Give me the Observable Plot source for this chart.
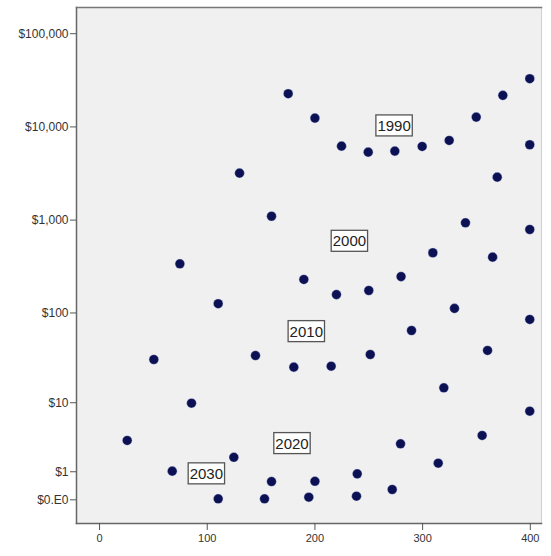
<!DOCTYPE html>
<html>
<head>
<meta charset="utf-8">
<script src="https://cdn.jsdelivr.net/npm/d3@7"></script>
<script src="https://cdn.jsdelivr.net/npm/@observablehq/plot@0.6"></script>
<style>
  body { margin: 0; background: white; }
</style>
</head>
<body>
<div id="chart"></div>
<script>
// Point values
const xValues = [25.7, 50.4, 67.5, 74.6, 85.4, 110.2, 110.2, 124.7, 130, 144.8,
  153.2, 159.7, 159.7, 175.2, 180.4, 189.7, 194.3, 200, 200, 215.1,
  220, 224.7, 238.6, 239.3, 249.5, 250, 251.4, 271.8, 274.2, 279.5,
  280, 289.7, 299.6, 309.5, 314.5, 319.7, 324.7, 329.6, 339.8, 349.8,
  355.3, 360.3, 365, 369.3, 374.5, 399.5, 399.5, 399.5, 399.5, 399.5];
const yValues = [3.33, 31.0, 1.03, 339, 9.87, 126, 0.025, 1.86, 3190, 34.3,
  0.025, 1100, 0.57, 22700, 25.5, 230, 0.066, 12430, 0.58, 26.1,
  158, 6220, 0.093, 0.90, 5360, 175, 35.2, 0.29, 5500, 2.99,
  247, 64.5, 6170, 446, 1.47, 14.9, 7160, 112, 936, 12740,
  3.90, 39.0, 400, 2890, 21800, 32900, 6440, 793, 85, 7.92];

const periodLabels = ["1990", "2000", "2010", "2020", "2030"];
const periodX = [273.5, 232, 192, 178.7, 99.2];
const periodY = [10200, 589, 62.4, 2.99, 0.89];

const xTicks = [0, 100, 200, 300, 400];
const yTicks = [0, 1, 10, 100, 1000, 10000, 100000];

const points = xValues.map((x, i) => ({x, y: yValues[i]}));
const labels = periodLabels.map((t, i) => ({t, x: periodX[i], y: periodY[i]}));
const fmtY = d => d === 0 ? "$0.E0" : "$" + d3.format(",")(d);

const chart = Plot.plot({
  width: 551,
  height: 556,
  marginLeft: 76,
  marginTop: 7,
  marginRight: 10,
  marginBottom: 33,
  style: {fontFamily: "'Liberation Sans', Arial, sans-serif", background: "white", color: "#333"},
  x: {domain: [-21.4, 410.4]},
  y: {type: "symlog", constant: 1, domain: [-0.795, 191000]},
  marks: [
    Plot.frame({fill: "#f0f0f0", stroke: "#d0d0d0"}),
    Plot.frame({anchor: "left", stroke: "#666", strokeWidth: 1.5}),
    Plot.frame({anchor: "bottom", stroke: "#666", strokeWidth: 1.5}),
    Plot.frame({anchor: "top", stroke: "#777", strokeWidth: 1.5}),
    Plot.axisY({ticks: yTicks, tickFormat: fmtY, tickSize: 6, tickPadding: 2, fontSize: 12, stroke: "#555", label: null}),
    Plot.axisX({ticks: xTicks, tickSize: 7, tickPadding: 4, fontSize: 11, stroke: "#555", label: null}),
    Plot.dot(points, {x: "x", y: "y", r: 4.8, fill: "#0b1153", stroke: "#c8d0f0", strokeWidth: 0.6, strokeOpacity: 0.6}),
    Plot.text(labels, {x: "x", y: "y", text: "t", fontSize: 15, fill: "#222", textAnchor: "middle", lineAnchor: "middle", className: "period-label"})
  ]
});

document.getElementById("chart").appendChild(chart);

// draw boxes around the period labels
chart.querySelectorAll(".period-label text").forEach(t => {
  const b = t.getBBox();
  const rect = document.createElementNS("http://www.w3.org/2000/svg", "rect");
  rect.setAttribute("x", b.x - 1.5);
  rect.setAttribute("y", b.y - 2);
  rect.setAttribute("width", b.width + 3);
  rect.setAttribute("height", b.height + 4);
  rect.setAttribute("fill", "white");
  rect.setAttribute("stroke", "#555");
  rect.setAttribute("stroke-width", "1.3");
  const tr = t.getAttribute("transform");
  if (tr) rect.setAttribute("transform", tr);
  t.parentNode.insertBefore(rect, t);
});
</script>
</body>
</html>
